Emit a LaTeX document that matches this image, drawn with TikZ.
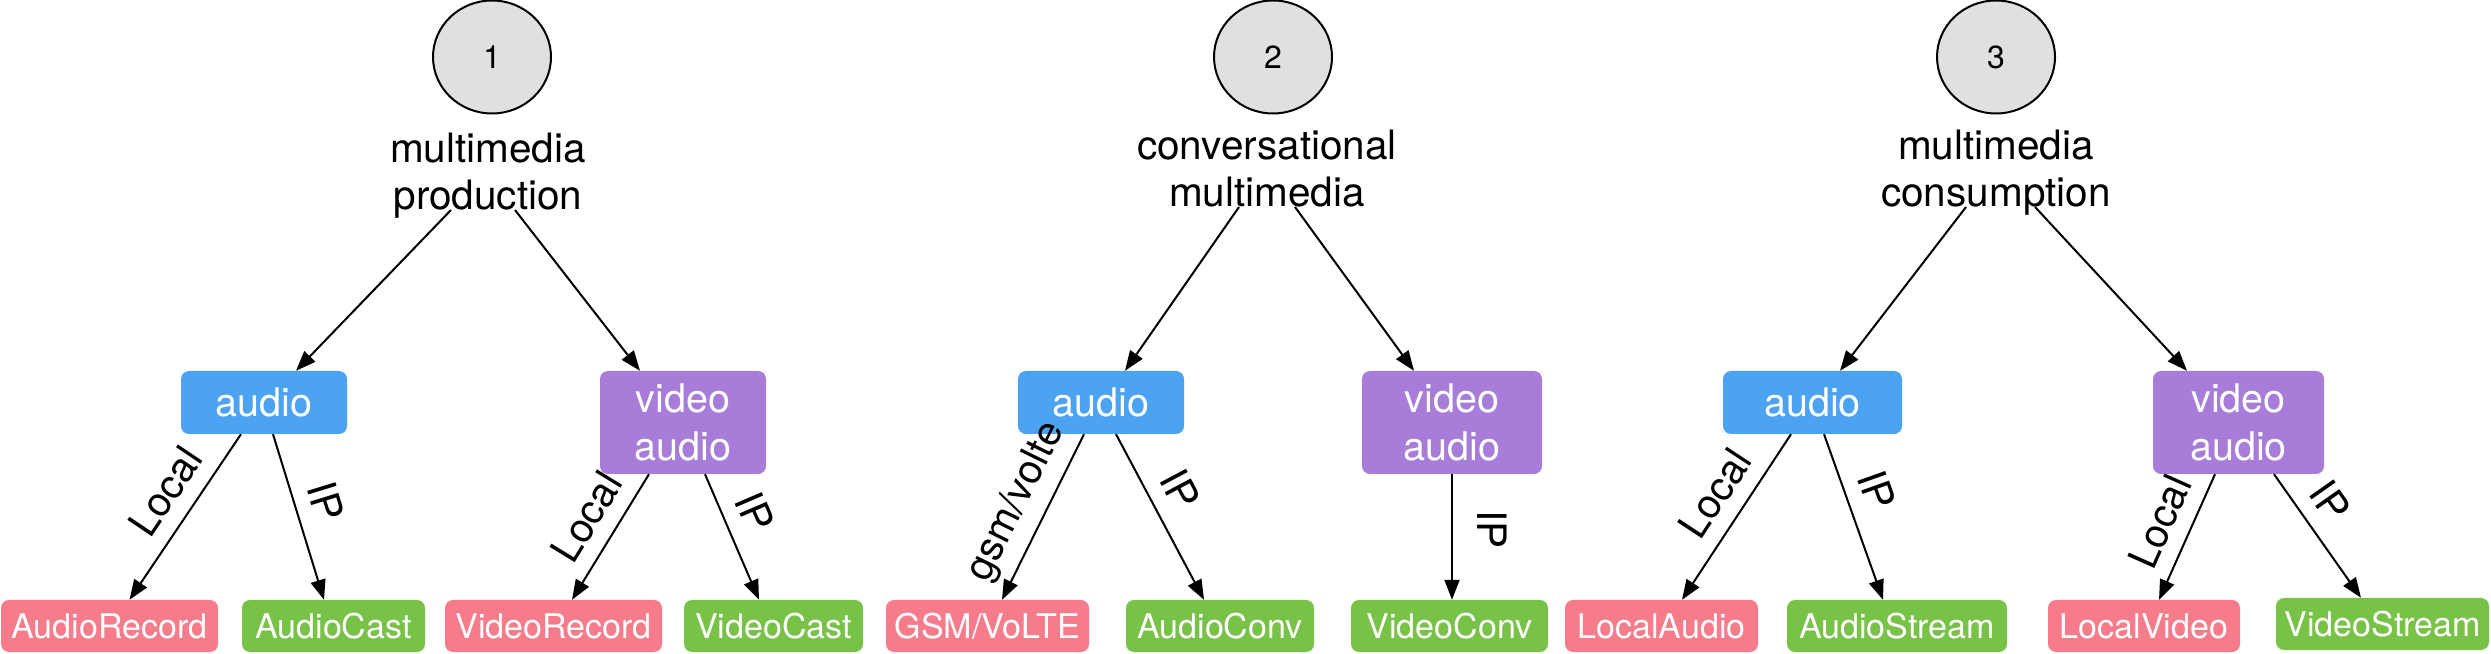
\documentclass[tikz,border=0pt]{standalone}
\usepackage{fontspec}
\usetikzlibrary{shapes.geometric,arrows.meta,calc}
\newfontfamily\herosplain{TeX Gyre Heros}
\definecolor{circfill}{HTML}{E0E0E0}
\definecolor{audioblue}{HTML}{4BA3F2}
\definecolor{videopurple}{HTML}{A87CD9}
\definecolor{pinkc}{HTML}{F77C8B}
\definecolor{greenc}{HTML}{78C247}
\tikzset{
  numnode/.style={ellipse, draw, line width=2pt, fill=circfill, minimum width=118pt, minimum height=113pt, inner sep=0pt, font=\herosplain\fontsize{32}{38}\selectfont},
  ttl/.style={align=center, inner sep=0pt, text depth=0pt, anchor=south, font=\herosplain\fontsize{40.5}{47}\selectfont},
  midbox/.style={rounded corners=8pt, text=white, inner sep=0pt, align=center, font=\herosplain\fontsize{39.5}{48}\selectfont},
  leaf/.style={rounded corners=8pt, text=white, inner sep=0pt, text depth=0pt, minimum height=52pt, font=\herosplain\fontsize{34}{40}\selectfont},
  arr/.style={-{Triangle[length=20pt,width=15pt]}, line width=2pt},
  lab/.style={sloped, above, inner sep=15pt, font=\herosplain\fontsize{40.5}{44}\selectfont}
}
\begin{document}
\begin{tikzpicture}[x=1pt,y=1pt]
\useasboundingbox (0,0) rectangle (2491,653);
% ---------------- tree 1
\node[numnode] (c1) at (492,596) {1};
\node[ttl] (t1) at (488,443) {multimedia\\production};
\node[midbox, fill=audioblue, minimum width=166pt, minimum height=63pt] (a1) at (264,250.5) {audio};
\node[midbox, fill=videopurple, minimum width=166pt, minimum height=103pt] (v1) at (683,230.5) {video\\audio};
\node[leaf, fill=pinkc, minimum width=217pt] (l1) at (109.5,27) {AudioRecord};
\node[leaf, fill=greenc, minimum width=183pt] (l2) at (333.5,27) {AudioCast};
\node[leaf, fill=pinkc, minimum width=217pt] (l3) at (553.5,27) {VideoRecord};
\node[leaf, fill=greenc, minimum width=179pt] (l4) at (773.5,27) {VideoCast};
\draw[arr] ([xshift=-37pt]t1.south) -- ([xshift=32pt]a1.north);
\draw[arr] ([xshift=27pt]t1.south) -- ([xshift=-43pt]v1.north);
\draw[arr] ([xshift=-23pt]a1.south) -- node[lab, pos=0.45] {Local} ([xshift=20pt]l1.north);
\draw[arr] ([xshift=9pt]a1.south) -- node[lab, pos=0.46] {IP} ([xshift=-9.5pt]l2.north);
\draw[arr] ([xshift=-34pt]v1.south) -- node[lab, pos=0.47] {Local} ([xshift=18.5pt]l3.north);
\draw[arr] ([xshift=22pt]v1.south) -- node[lab, pos=0.40] {IP} ([xshift=-14.5pt]l4.north);
% ---------------- tree 2
\node[numnode] (c2) at (1273,596) {2};
\node[ttl] (t2) at (1267,446) {conversational\\multimedia};
\node[midbox, fill=audioblue, minimum width=166pt, minimum height=63pt] (a2) at (1101,250.5) {audio};
\node[midbox, fill=videopurple, minimum width=180pt, minimum height=103pt] (v2) at (1452,230.5) {video\\audio};
\node[leaf, fill=pinkc, minimum width=203pt] (l5) at (987.5,27) {GSM/VoLTE};
\node[leaf, fill=greenc, minimum width=188pt] (l6) at (1220,27) {AudioConv};
\node[leaf, fill=greenc, minimum width=197pt] (l7) at (1449.5,27) {VideoConv};
\draw[arr] ([xshift=-28pt]t2.south) -- ([xshift=24pt]a2.north);
\draw[arr] ([xshift=28pt]t2.south) -- ([xshift=-38pt]v2.north);
\draw[arr] ([xshift=-17pt]a2.south) -- node[lab, pos=0.49, inner sep=10pt] {gsm/volte} ([xshift=14.5pt]l5.north);
\draw[arr] ([xshift=15pt]a2.south) -- node[lab, pos=0.42] {IP} ([xshift=-16pt]l6.north);
\draw[arr] (v2.south) -- node[lab, pos=0.44, inner sep=24pt] {IP} (v2.south |- l7.north);
% ---------------- tree 3
\node[numnode] (c3) at (1996,596) {3};
\node[ttl] (t3) at (1996,446) {multimedia\\consumption};
\node[midbox, fill=audioblue, minimum width=179pt, minimum height=63pt] (a3) at (1812.5,250.5) {audio};
\node[midbox, fill=videopurple, minimum width=171pt, minimum height=103pt] (v3) at (2238.5,230.5) {video\\audio};
\node[leaf, fill=pinkc, minimum width=193pt] (l8) at (1661.5,27) {LocalAudio};
\node[leaf, fill=greenc, minimum width=220pt] (l9) at (1897,27) {AudioStream};
\node[leaf, fill=pinkc, minimum width=192pt] (l10) at (2144,27) {LocalVideo};
\node[leaf, fill=greenc, minimum width=213pt] (l11) at (2382.5,29) {VideoStream};
\draw[arr] ([xshift=-30pt]t3.south) -- ([xshift=27.5pt]a3.north);
\draw[arr] ([xshift=39pt]t3.south) -- ([xshift=-51.5pt]v3.north);
\draw[arr] ([xshift=-21.5pt]a3.south) -- node[lab, pos=0.46] {Local} ([xshift=20.5pt]l8.north);
\draw[arr] ([xshift=11.5pt]a3.south) -- node[lab, pos=0.40] {IP} ([xshift=-14pt]l9.north);
\draw[arr] ([xshift=-23.5pt]v3.south) -- node[lab, pos=0.48] {Local} ([xshift=15pt]l10.north);
\draw[arr] ([xshift=35.5pt]v3.south) -- node[lab, pos=0.36] {IP} ([xshift=-21.5pt]l11.north);
\end{tikzpicture}
\end{document}
